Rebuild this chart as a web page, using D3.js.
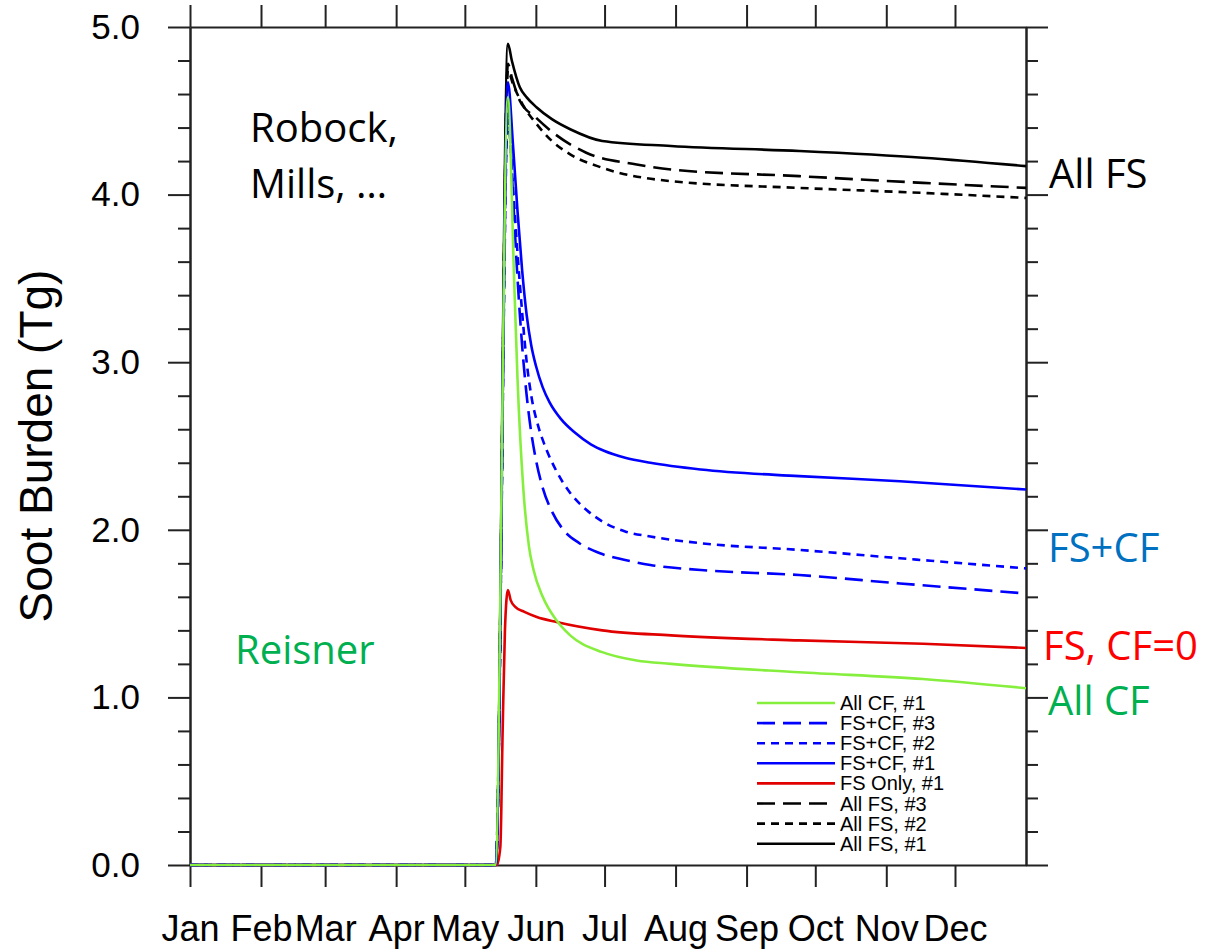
<!DOCTYPE html>
<html>
<head>
<meta charset="utf-8">
<script src="https://cdn.jsdelivr.net/npm/d3@7"></script>
<style>
  body { margin: 0; background: #fff; }
  svg { display: block; }
  .axis path, .axis line { stroke: #222; stroke-width: 2; }
  .axis text { font-family: "Liberation Sans", Arial, sans-serif; fill: #000; }
  .note { font-family: "Open Sans", sans-serif; font-size: 40px; }
</style>
</head>
<body>
<div id="chart"></div>
<script>
// day-of-year, soot burden (Tg)
const monthNames = ["Jan","Feb","Mar","Apr","May","Jun","Jul","Aug","Sep","Oct","Nov","Dec"];
const monthStarts = [0,31,59,90,120,151,181,212,243,273,304,334];
const yMajor = [0,1,2,3,4,5];

const allFS1 = [[0,0],[133.5,0],[138.8,4.90],[140.5,4.80],[144,4.64],[147,4.58],[151.4,4.52],[158,4.45],[166,4.39],[180,4.32],[210,4.29],[266,4.26],[320,4.22],[365,4.17]];
const allFS2 = [[0,0],[133.5,0],[138.8,4.74],[141,4.66],[146,4.52],[151.4,4.42],[158,4.32],[166,4.24],[180,4.16],[210,4.08],[266,4.04],[320,4.01],[365,3.98]];
const allFS3 = [[0,0],[133.5,0],[138.8,4.78],[140.5,4.70],[144,4.56],[151,4.46],[158.5,4.37],[173,4.25],[195,4.18],[210,4.15],[266,4.11],[320,4.07],[365,4.04]];
const fsOnly1 = [[0,0],[134,0],[135.5,0.11],[136.5,0.8],[137.5,1.4],[138.8,1.64],[140,1.58],[142,1.54],[146,1.51],[151.4,1.48],[160,1.45],[180,1.40],[210,1.37],[266,1.34],[320,1.32],[365,1.295]];
const fsCF1 = [[0,0],[133.5,0],[138.8,4.67],[141,4.3],[143,3.9],[145,3.55],[147,3.28],[149,3.1],[151,2.98],[154,2.85],[157,2.76],[162,2.66],[168,2.58],[175,2.51],[181,2.47],[190,2.43],[201,2.40],[223,2.36],[266,2.32],[310,2.29],[365,2.24]];
const fsCF2 = [[0,0],[133.5,0],[138.8,4.45],[141,4.05],[143,3.65],[145,3.3],[147,3.0],[149,2.8],[152,2.62],[155,2.5],[160,2.35],[166,2.22],[173,2.12],[180,2.05],[190,1.99],[201,1.96],[223,1.92],[266,1.88],[310,1.83],[365,1.77]];
const fsCF3 = [[0,0],[133.5,0],[138.8,4.55],[141,4.0],[143,3.5],[145,3.1],[147,2.8],[149,2.58],[151,2.42],[154,2.25],[158,2.11],[163,2.0],[170,1.92],[179,1.86],[190,1.82],[201,1.79],[223,1.76],[266,1.73],[310,1.68],[365,1.62]];
const allCF1 = [[0,0],[133.3,0],[138.8,4.58],[141.5,3.5],[143,2.9],[145.5,2.25],[148,1.9],[150,1.76],[154,1.6],[160,1.46],[166,1.37],[180,1.27],[195,1.22],[210,1.20],[266,1.15],[320,1.11],[365,1.055]];

const series = [
  { name: "All FS, #1", data: allFS1, color: "#000", dash: null },
  { name: "All FS, #2", data: allFS2, color: "#000", dash: "8,6" },
  { name: "All FS, #3", data: allFS3, color: "#000", dash: "18,8" },
  { name: "FS Only, #1", data: fsOnly1, color: "#e00000", dash: null },
  { name: "FS+CF, #1", data: fsCF1, color: "#0000ff", dash: null },
  { name: "FS+CF, #2", data: fsCF2, color: "#0000ff", dash: "8,6" },
  { name: "FS+CF, #3", data: fsCF3, color: "#0000ff", dash: "18,8" },
  { name: "All CF, #1", data: allCF1, color: "#86ef3e", dash: null }
];

const W = 1206, H = 950;
const m = { left: 190, right: 180, top: 27, bottom: 85 };

const svg = d3.select("#chart").append("svg").attr("width", W).attr("height", H);

const x = d3.scaleLinear().domain([0, 365]).range([m.left, W - m.right]);
const y = d3.scaleLinear().domain([0, 5]).range([H - m.bottom, m.top]);

const minorY = d3.range(0, 5.01, 0.2).filter(v => Math.abs(v - Math.round(v)) > 0.01);

// axes
svg.append("g").attr("class", "axis").attr("transform", `translate(0,${y(0)})`)
  .call(d3.axisBottom(x).tickValues(monthStarts).tickSize(22).tickSizeOuter(0).tickPadding(28)
    .tickFormat((d, i) => monthNames[i]))
  .selectAll("text").style("font-size", "36px");
svg.append("g").attr("class", "axis").attr("transform", `translate(0,${y(5)})`)
  .call(d3.axisTop(x).tickValues(monthStarts).tickSize(22).tickSizeOuter(0).tickFormat(""));

svg.append("g").attr("class", "axis").attr("transform", `translate(${x(0)},0)`)
  .call(d3.axisLeft(y).tickValues(yMajor).tickSize(22).tickSizeOuter(0).tickPadding(28)
    .tickFormat(d3.format(".1f")))
  .selectAll("text").style("font-size", "35px");
svg.append("g").attr("class", "axis").attr("transform", `translate(${x(0)},0)`)
  .call(d3.axisLeft(y).tickValues(minorY).tickSize(12).tickSizeOuter(0).tickFormat(""));
svg.append("g").attr("class", "axis").attr("transform", `translate(${x(365)},0)`)
  .call(d3.axisRight(y).tickValues(yMajor).tickSize(22).tickSizeOuter(0).tickFormat(""));
svg.append("g").attr("class", "axis").attr("transform", `translate(${x(365)},0)`)
  .call(d3.axisRight(y).tickValues(minorY).tickSize(12).tickSizeOuter(0).tickFormat(""));

// y title
svg.append("text")
  .attr("transform", `translate(52,${(y(0) + y(5)) / 2}) rotate(-90)`)
  .attr("text-anchor", "middle")
  .style("font-family", "'Liberation Sans', Arial, sans-serif")
  .style("font-size", "46px")
  .text("Soot Burden (Tg)");

// lines
const line = d3.line().x(d => x(d[0])).y(d => y(d[1])).curve(d3.curveMonotoneX);
svg.append("g").selectAll("path").data(series).join("path")
  .attr("d", d => line(d.data))
  .attr("fill", "none")
  .attr("stroke", d => d.color)
  .attr("stroke-width", 2.6)
  .attr("stroke-linejoin", "round")
  .attr("stroke-dasharray", d => d.dash);

// legend (reverse order, top to bottom)
const leg = svg.append("g");
const legItems = series.slice().reverse();
legItems.forEach((s, i) => {
  const ly = 703 + i * 20.1;
  leg.append("line").attr("x1", 757).attr("x2", 835).attr("y1", ly).attr("y2", ly)
    .attr("stroke", s.color).attr("stroke-width", 2.6).attr("stroke-dasharray", s.dash);
  leg.append("text").attr("x", 840).attr("y", ly + 7)
    .style("font-family", "'Liberation Sans', Arial, sans-serif")
    .style("font-size", "20px").text(s.name);
});

// annotations
const notes = [
  { t: "Robock,", x: 250, y: 142, c: "#000" },
  { t: "Mills, …", x: 250, y: 198, c: "#000" },
  { t: "Reisner", x: 235, y: 664, c: "#00b050" },
  { t: "All FS", x: 1049, y: 188, c: "#000" },
  { t: "FS+CF", x: 1048, y: 562, c: "#0070c0" },
  { t: "FS, CF=0", x: 1043, y: 660, c: "#ff0000" },
  { t: "All CF", x: 1048, y: 715, c: "#00b050" }
];
svg.append("g").selectAll("text").data(notes).join("text")
  .attr("class", "note")
  .attr("x", d => d.x).attr("y", d => d.y)
  .attr("fill", d => d.c)
  .text(d => d.t);
</script>
</body>
</html>
